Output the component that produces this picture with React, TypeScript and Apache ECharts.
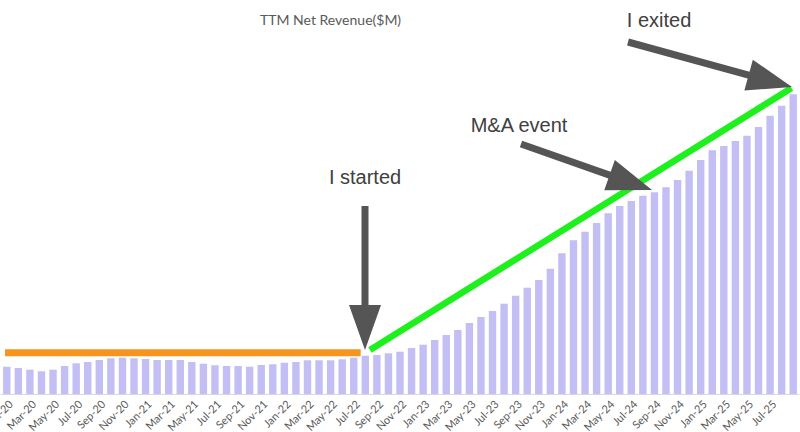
import React, { useEffect, useRef } from "react";
import * as echarts from "echarts";

const years = [2020, 2021, 2022, 2023, 2024, 2025];
const monthNames = ["Jan", "Feb", "Mar", "Apr", "May", "Jun", "Jul", "Aug", "Sep", "Oct", "Nov", "Dec"];
const monthCount = 69; // Jan-20 .. Sep-25

const categories: string[] = [];
for (const y of years) {
  for (const m of monthNames) {
    if (categories.length < monthCount) categories.push(`${m}-${String(y).slice(2)}`);
  }
}

// TTM net revenue ($M)
const revenue = [
  2.73, 2.6, 2.43, 2.27, 2.43, 2.8, 3.07, 3.2, 3.4, 3.57,
  3.63, 3.57, 3.5, 3.4, 3.4, 3.4, 3.2, 3.03, 2.87, 2.8,
  2.8, 2.73, 2.9, 2.97, 3.13, 3.2, 3.37, 3.37, 3.37, 3.47,
  3.63, 3.83, 3.9, 4.07, 4.23, 4.6, 4.93, 5.4, 5.9, 6.4,
  7.1, 7.7, 8.3, 9.03, 9.83, 10.63, 11.4, 12.53, 14.07, 15.37,
  16.23, 17.1, 18.07, 18.8, 19.3, 19.83, 20.17, 20.67, 21.4, 22.33,
  23.4, 24.37, 24.8, 25.3, 25.83, 26.7, 27.83, 28.83, 29.97,
];

// trend lines: [month index, $M]
const orangeLine = [[-0.15, 4.13], [30.6, 4.13]];
const greenLine = [[31.4, 4.4], [67.85, 30.6]];

const titleText = "TTM Net Revenue($M)";
const notes = [
  { text: "I started", x: 365, y: 177, from: [365, 206], to: [365, 350] },
  { text: "M&A event", x: 519, y: 125, from: [521, 144], to: [652, 190] },
  { text: "I exited", x: 659, y: 20, from: [628, 42], to: [792, 87] },
];

function arrowPoints(from: number[], to: number[], sw = 7, hw = 32, hl = 45) {
  const dx = to[0] - from[0];
  const dy = to[1] - from[1];
  const len = Math.hypot(dx, dy);
  const ux = dx / len, uy = dy / len;
  const nx = -uy, ny = ux;
  const bx = to[0] - ux * hl, by = to[1] - uy * hl;
  return [
    [from[0] + nx * sw / 2, from[1] + ny * sw / 2],
    [bx + nx * sw / 2, by + ny * sw / 2],
    [bx + nx * hw / 2, by + ny * hw / 2],
    [to[0], to[1]],
    [bx - nx * hw / 2, by - ny * hw / 2],
    [bx - nx * sw / 2, by - ny * sw / 2],
    [from[0] - nx * sw / 2, from[1] - ny * sw / 2],
  ];
}

export default function App() {
  const ref = useRef<HTMLDivElement>(null);
  useEffect(() => {
    if (!ref.current) return;
    const chart = echarts.init(ref.current, undefined, { renderer: "svg" });
    const graphics: any[] = [];
    notes.forEach((n) => {
      graphics.push({
        type: "polygon",
        shape: { points: arrowPoints(n.from, n.to) },
        style: { fill: "#555555" },
        z: 100,
      });
      graphics.push({
        type: "text",
        x: n.x,
        y: n.y,
        style: {
          text: n.text,
          font: '20px "Liberation Sans", Arial, sans-serif',
          fill: "#404040",
          align: "center",
          verticalAlign: "middle",
        },
        z: 100,
      });
    });
    chart.setOption({
      animation: false,
      title: {
        text: titleText,
        left: 255,
        top: 7,
        textStyle: { fontFamily: "Lato", fontSize: 14, fontWeight: "normal", color: "#595959" },
      },
      grid: { left: 1, right: 1, top: 0, bottom: 38, containLabel: false, outerBoundsMode: "none" },
      xAxis: [
        {
          type: "category",
          data: categories,
          boundaryGap: true,
          axisLine: { show: true, lineStyle: { color: "#D9D9D9", width: 1 } },
          axisTick: { show: false },
          axisLabel: {
            interval: (i: number) => i % 2 === 0 && i < 68,
            rotate: 45,
            margin: 4,
            fontFamily: "Lato",
            fontSize: 11,
            color: "#595959",
            verticalAlign: "top",
            hideOverlap: false,
          },
        },
        {
          type: "value",
          min: -0.5,
          max: 68.5,
          show: false,
        },
      ],
      yAxis: { type: "value", min: 0, max: 39.4, show: false, splitLine: { show: false } },
      series: [
        {
          type: "bar",
          data: revenue,
          barWidth: 7.4,
          itemStyle: { color: "#C3BEF3" },
        },
        {
          type: "line",
          xAxisIndex: 1,
          data: orangeLine,
          showSymbol: false,
          lineStyle: { color: "#F7941D", width: 7, cap: "butt" },
          z: 5,
        },
        {
          type: "line",
          xAxisIndex: 1,
          data: greenLine,
          showSymbol: false,
          lineStyle: { color: "#1EF01E", width: 6.5, cap: "butt" },
          z: 5,
        },
      ],
      graphic: graphics,
    });
    return () => chart.dispose();
  }, []);
  return <div ref={ref} style={{ position: "fixed", left: 0, top: 0, width: 800, height: 432, background: "#fff" }} />;
}
